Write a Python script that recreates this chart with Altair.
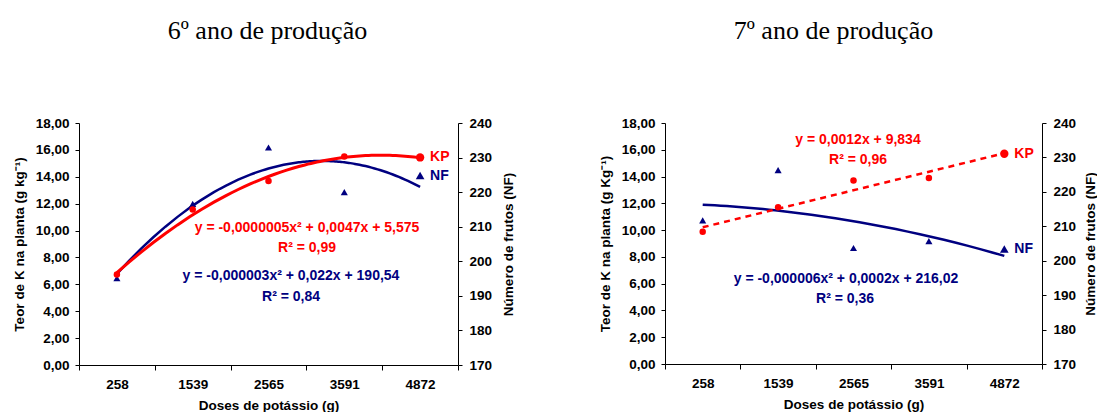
import json

import altair as alt
import pandas as pd

# Potassium doses (g) shown as categories on the x axis, at positions 1..5
DOSES = ["258", "1539", "2565", "3591", "4872"]
POS = [1, 2, 3, 4, 5]

# K content in the plant (g/kg) - left axis
KP_6 = [6.73, 11.56, 13.68, 15.50, 15.44]
KP_7 = [9.88, 11.71, 13.70, 13.90, 15.70]
# Number of fruits - right axis
NF_6 = [195.1, 216.6, 232.9, 220.0, 224.8]
NF_7 = [211.7, 226.3, 203.7, 205.7, 203.4]

TITLES = ["6º ano de produção", "7º ano de produção"]
Y_TITLES = ["Teor de K na planta (g kg⁻¹)", "Teor de K na planta (g Kg⁻¹)"]
Y2_TITLE = "Número de frutos (NF)"
X_TITLE = "Doses de potássio (g)"
KP_EQ = [["y = -0,0000005x² + 0,0047x + 5,575", "R² = 0,99"],
         ["y = 0,0012x + 9,834", "R² = 0,96"]]
NF_EQ = [["y = -0,000003x² + 0,022x + 190,54", "R² = 0,84"],
         ["y = -0,000006x² + 0,0002x + 216,02", "R² = 0,36"]]

RED = "#ff0000"
NAVY = "#000080"
FONT = "Liberation Sans"

KP_TICKS = [0, 2, 4, 6, 8, 10, 12, 14, 16, 18]
NF_TICKS = [170, 180, 190, 200, 210, 220, 230, 240]

label_expr = ("datum.value % 1 === 0 ? " + json.dumps(DOSES).replace('"', "'")
              + "[datum.value - 1] : ''")

x_scale = alt.Scale(domain=[0.5, 5.5], nice=False, zero=False)
x_axis = alt.Axis(
    values=[0.5, 1, 1.5, 2, 2.5, 3, 3.5, 4, 4.5, 5, 5.5],
    labelExpr=label_expr,
    tickOpacity={"condition": {"test": "datum.value % 1 === 0", "value": 0}, "value": 1},
    title=X_TITLE, tickSize=5, labelPadding=7, titlePadding=8, labelFlush=False,
)


def left_axis(title, h):
    return alt.Axis(values=KP_TICKS, title=title, tickSize=4, labelPadding=6,
                    labelExpr="replace(format(datum.value, '.2f'), '.', ',')",
                    titleX=-60, titleY=h / 2, titleAngle=270,
                    titleBaseline="middle", titleAlign="center")


def right_axis(h, tx):
    return alt.Axis(values=NF_TICKS, title=Y2_TITLE, orient="right", tickSize=4,
                    labelPadding=7, titleX=tx, titleY=h / 2, titleAngle=270,
                    titleBaseline="middle", titleAlign="center")


def note(text, color, x, y):
    return alt.Chart(alt.Data(values=[{"t": text}])).mark_text(
        font=FONT, fontWeight="bold", fontSize=14, color=color,
        align="center", baseline="middle",
    ).encode(x=alt.value(x), y=alt.value(y), text="t:N")


def panel(i, kp, nf, kp_reg, kp_line_style, w, h, nf_tx, title_dx, notes):
    df = pd.DataFrame({"idx": POS, "dose": DOSES, "kp": kp, "nf": nf})
    base = alt.Chart(df)
    x = alt.X("idx:Q", scale=x_scale, axis=x_axis)
    yk = alt.Y("kp:Q", scale=alt.Scale(domain=[0, 18], nice=False, zero=False),
               axis=left_axis(Y_TITLES[i], h))
    yn = alt.Y("nf:Q", scale=alt.Scale(domain=[170, 240], nice=False, zero=False),
               axis=right_axis(h, nf_tx))
    last = alt.datum.idx == 5

    nf_line = base.transform_regression("idx", "nf", method="poly", order=2).mark_line(
        color=NAVY, strokeWidth=2.5).encode(x=x, y=yn)
    nf_pts = base.mark_point(shape="triangle-up", filled=True, color=NAVY, opacity=1).encode(
        x=x, y=yn, size=alt.condition(last, alt.value(75), alt.value(50)))
    nf_lab = base.transform_filter(last).mark_text(
        text="NF", font=FONT, fontWeight="bold", fontSize=14, color=NAVY,
        align="left", baseline="middle", dx=10).encode(x=x, y=yn)
    nf_layer = alt.layer(nf_line, nf_pts, nf_lab)

    kp_line = base.transform_regression("idx", "kp", **kp_reg).mark_line(
        color=RED, **kp_line_style).encode(x=x, y=yk)
    kp_pts = base.mark_circle(color=RED, opacity=1).encode(
        x=x, y=yk, size=alt.condition(last, alt.value(70), alt.value(42)))
    kp_lab = base.transform_filter(last).mark_text(
        text="KP", font=FONT, fontWeight="bold", fontSize=14, color=RED,
        align="left", baseline="middle", dx=10).encode(x=x, y=yk)
    kp_layer = alt.layer(kp_line, kp_pts, kp_lab)

    notes_layers = [note(*n) for n in notes]
    return alt.layer(nf_layer, kp_layer, *notes_layers).resolve_scale(
        y="independent").properties(
        width=w, height=h,
        title=alt.Title(TITLES[i], font="Liberation Serif", fontSize=26,
                        fontWeight="normal", color="black", baseline="alphabetic",
                        offset=51, dx=title_dx, anchor="middle"),
    )


p6 = panel(0, KP_6, NF_6, {"method": "poly", "order": 2}, {"strokeWidth": 3},
           379, 242, 50, -1,
           [(KP_EQ[0][0], RED, 228, 105), (KP_EQ[0][1], RED, 228, 125),
            (NF_EQ[0][0], NAVY, 212, 153), (NF_EQ[0][1], NAVY, 212, 174)])
p7 = panel(1, KP_7, NF_7, {"method": "linear"}, {"strokeWidth": 2.5, "strokeDash": [6, 5]},
           377, 241, 48, -20,
           [(KP_EQ[1][0], RED, 193, 17), (KP_EQ[1][1], RED, 193, 37),
            (NF_EQ[1][0], NAVY, 181, 156), (NF_EQ[1][1], NAVY, 180, 176)])

chart = alt.hconcat(p6, p7, spacing=83).properties(
    padding={"left": 12, "top": 18, "right": 0, "bottom": 0},
    background="white",
).configure_axis(
    labelFont=FONT, titleFont=FONT, labelFontWeight="bold", titleFontWeight="bold",
    labelFontSize=13.5, titleFontSize=13.5, labelColor="black", titleColor="black",
    domainColor="black", tickColor="black", domainWidth=1, tickWidth=1, grid=False,
).configure_view(stroke=None)

chart.save("out.html", embed_options={"renderer": "svg", "actions": False})
